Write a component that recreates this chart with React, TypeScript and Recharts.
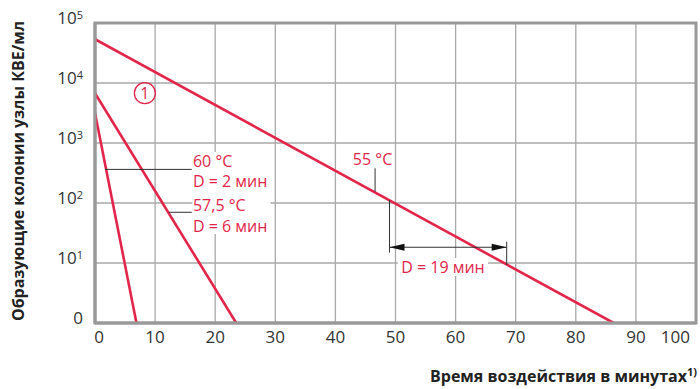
import React from 'react';
import { LineChart, Line, XAxis, YAxis, CartesianGrid, ReferenceLine, ReferenceDot, ReferenceArea } from 'recharts';

const X_TICKS = [0, 10, 20, 30, 40, 50, 60, 70, 80, 90, 100];
const Y_TICKS = [1, 10, 100, 1000, 10000, 100000];

const line60 = [{ x: 0, y: 3160 }, { x: 6.9, y: 1 }];
const line575 = [{ x: 0, y: 6760 }, { x: 23.5, y: 1 }];
const line55 = [{ x: 0, y: 53700 }, { x: 86.3, y: 1 }];

const RED = '#e2264b';
const DARK = '#333';
const FONT = '"Open Sans", sans-serif';

const YTick = (props: any) => {
  const { x, y, payload } = props;
  const exp = Math.round(Math.log10(payload.value));
  if (exp === 0) {
    return (
      <text x={x} y={y + 1} textAnchor="end" fontSize={17} fill={DARK} fontFamily={FONT}>0</text>
    );
  }
  return (
    <text x={x} y={y + 1} textAnchor="end" fontSize={17} fill={DARK} fontFamily={FONT}>
      10<tspan dy={-5} fontSize={11}>{exp}</tspan>
    </text>
  );
};

const XTick = (props: any) => {
  const { x, y, payload } = props;
  const v = payload.value;
  let anchor: any = 'middle';
  let tx = x;
  if (v === 0) tx = x + 4;
  if (v === 100) { anchor = 'end'; tx = x + 2; }
  return (
    <text x={tx} y={y} dy={12} textAnchor={anchor} fontSize={17} fill={DARK} fontFamily={FONT}>{v}</text>
  );
};

const txt = (s: string, anchor: string = 'start') => (p: any) => (
  <text x={p.cx} y={p.cy} textAnchor={anchor} dominantBaseline="central" fontSize={16} fill={RED} fontFamily={FONT}>{s}</text>
);

const circleOne = (p: any) => (
  <g>
    <circle cx={p.cx} cy={p.cy} r={10.5} fill="none" stroke={RED} strokeWidth={1.3} />
    <text x={p.cx} y={p.cy} textAnchor="middle" dominantBaseline="central" fontSize={16} fill={RED} fontFamily={FONT}>1</text>
  </g>
);

const arrowShape = (p: any) => {
  const { x1, y1, x2, y2 } = p;
  const L = 15, H = 3.5;
  return (
    <g>
      <line x1={x1} y1={y1} x2={x2} y2={y2} stroke={DARK} strokeWidth={1} />
      <polygon points={`${x1},${y1} ${x1 + L},${y1 - H} ${x1 + L},${y1 + H}`} fill="#111" />
      <polygon points={`${x2},${y2} ${x2 - L},${y2 - H} ${x2 - L},${y2 + H}`} fill="#111" />
    </g>
  );
};

export default function App() {
  return (
    <div style={{ position: 'absolute', left: 0, top: 0, width: 700, height: 389, background: '#fff' }}>
      <LineChart width={700} height={389} margin={{ top: 23, right: 4, left: 0, bottom: 0 }}>
        <CartesianGrid stroke="#a9a9a9" strokeWidth={1.3} />
        <XAxis
          type="number"
          dataKey="x"
          domain={[0, 100]}
          ticks={X_TICKS}
          allowDataOverflow
          height={66}
          axisLine={{ stroke: '#999', strokeWidth: 3 }}
          tickLine={false}
          tick={<XTick />}
          label={{
            content: () => (
              <text x={697} y={382} textAnchor="end" fontSize={16} fontWeight="bold" fill="#222" fontFamily={FONT}>
                Время воздействия в минутах<tspan dy={-6} fontSize={11}>1)</tspan>
              </text>
            ),
          }}
        />
        <YAxis
          type="number"
          scale="log"
          domain={[1, 100000]}
          ticks={Y_TICKS}
          allowDataOverflow
          width={95}
          axisLine={{ stroke: '#999', strokeWidth: 3 }}
          tickLine={false}
          tickSize={0}
          tickMargin={12}
          tick={<YTick />}
          label={{
            content: () => (
              <text x={18} y={171} transform="rotate(-90, 18, 171)" textAnchor="middle" dominantBaseline="central" fontSize={16} fontWeight="bold" fill="#222" fontFamily={FONT}>
                Образующие колонии узлы КВЕ/мл
              </text>
            ),
          }}
        />
        <ReferenceArea x1={0} x2={100} y1={1} y2={100000} fill="none" stroke="#999" strokeWidth={3} />
        <ReferenceArea x1={16.2} x2={29.2} y1={30.4} y2={708} fill="#fff" fillOpacity={1} stroke="none" />
        <ReferenceArea x1={50.4} x2={65.4} y1={6.07} y2={12.1} fill="#fff" fillOpacity={1} stroke="none" />

        <Line data={line55} dataKey="y" type="linear" stroke={RED} strokeWidth={2.6} dot={false} isAnimationActive={false} />
        <Line data={line575} dataKey="y" type="linear" stroke={RED} strokeWidth={2.6} dot={false} isAnimationActive={false} />
        <Line data={line60} dataKey="y" type="linear" stroke={RED} strokeWidth={2.6} dot={false} isAnimationActive={false} />

        <ReferenceLine segment={[{ x: 1.66, y: 363 }, { x: 16.1, y: 363 }]} stroke={DARK} strokeWidth={1} />
        <ReferenceLine segment={[{ x: 12.3, y: 70 }, { x: 16.1, y: 70 }]} stroke={DARK} strokeWidth={1} />
        <ReferenceLine segment={[{ x: 46.6, y: 379 }, { x: 46.6, y: 154 }]} stroke={DARK} strokeWidth={1} />
        <ReferenceLine segment={[{ x: 49.0, y: 112 }, { x: 49.0, y: 14.9 }]} stroke={DARK} strokeWidth={1} />
        <ReferenceLine segment={[{ x: 68.5, y: 22.6 }, { x: 68.5, y: 9.26 }]} stroke={DARK} strokeWidth={1} />
        <ReferenceLine segment={[{ x: 49.0, y: 18.3 }, { x: 68.5, y: 18.3 }]} shape={arrowShape} />

        <ReferenceDot x={16.3} y={501} r={0} shape={txt('60 °C')} />
        <ReferenceDot x={16.3} y={234} r={0} shape={txt('D = 2 мин')} />
        <ReferenceDot x={16.3} y={91} r={0} shape={txt('57,5 °C')} />
        <ReferenceDot x={16.3} y={42} r={0} shape={txt('D = 6 мин')} />
        <ReferenceDot x={42.9} y={550} r={0} shape={txt('55 °C')} />
        <ReferenceDot x={57.9} y={8.7} r={0} shape={txt('D = 19 мин', 'middle')} />
        <ReferenceDot x={8.3} y={6760} r={0} shape={circleOne} />
      </LineChart>
    </div>
  );
}
